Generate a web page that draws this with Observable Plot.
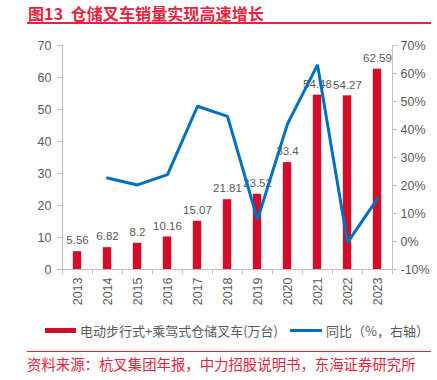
<!DOCTYPE html>
<html><head><meta charset="utf-8">
<script src="https://cdn.jsdelivr.net/npm/d3@7"></script>
<script src="https://cdn.jsdelivr.net/npm/@observablehq/plot@0.6"></script>
<style>
body{margin:0;background:#fff;font-family:"Noto Sans CJK SC","Liberation Sans",sans-serif;}
#wrap{position:relative;width:437px;height:380px;overflow:hidden;}
#title{position:absolute;left:28px;top:1px;font-size:16px;font-weight:bold;color:#e3233f;letter-spacing:0.1px;}
#tline{position:absolute;left:27px;top:22px;width:404px;height:2px;background:#e3233f;}
#chart{position:absolute;left:0;top:30px;}
#legend{position:absolute;left:45px;top:321px;font-size:13px;color:#595959;display:flex;align-items:center;white-space:nowrap;}
#sline{position:absolute;left:27px;top:351px;width:404px;height:1px;background:#e3233f;}
#source{position:absolute;left:27px;top:353px;font-size:14.4px;color:#e3233f;white-space:nowrap;}
</style></head>
<body><div id="wrap">
<div id="title">图13&nbsp;&nbsp;仓储叉车销量实现高速增长</div>
<div id="tline"></div>
<div id="chart"></div>
<div id="legend"><span style="display:inline-block;width:31px;height:5px;background:#d50b2a;margin-right:4px"></span>电动步行式+乘驾式仓储叉车(万台)<span style="display:inline-block;width:32px;height:3px;background:#0070c0;margin-left:12px;margin-right:4px"></span>同比（%，右轴）</div>
<div id="sline"></div>
<div id="source">资料来源：杭叉集团年报，中力招股说明书，东海证券研究所</div>
</div>
<script>
const years = [2013,2014,2015,2016,2017,2018,2019,2020,2021,2022,2023];
const sales = [5.56,6.82,8.2,10.16,15.07,21.81,23.52,33.4,54.48,54.27,62.59];
const growthYears = [2014,2015,2016,2017,2018,2019,2020,2021,2022,2023];
const growth = [22.7,20.2,23.9,48.3,44.7,7.8,42.0,63.1,-0.4,15.3];
const leftTicks = [0,10,20,30,40,50,60,70];
const rightTicks = [-10,0,10,20,30,40,50,60,70];

const leftDomain = [0,70];
const rightDomain = [-10,70];
const toLeft = g => leftDomain[0] + (g - rightDomain[0]) * (leftDomain[1]-leftDomain[0])/(rightDomain[1]-rightDomain[0]);
const xDomain = [years[0]-0.5, years[years.length-1]+0.5];
const halfBar = 0.14;

const bars = years.map((y,i)=>({year:y, v:sales[i]}));
const line = growthYears.map((y,i)=>({year:y, g:growth[i]}));
const gray = "#595959";
const axisGray = "#bfbfbf";

const chart = Plot.plot({
  width: 437, height: 282,
  marginTop: 15, marginLeft: 62, marginRight: 45, marginBottom: 43,
  style: {fontFamily: "'Liberation Sans', Arial, sans-serif", fontSize: "12px", color: gray, background: "#fff"},
  x: {type: "linear", domain: xDomain},
  y: {domain: leftDomain},
  marks: [
    Plot.rectY(bars, {x1: d=>d.year-halfBar, x2: d=>d.year+halfBar, y: "v", fill: "#d50b2a"}),
    Plot.text(bars, {x: "year", y: "v", text: d=>String(d.v), dy: -11, fill: gray, fontSize: 11.5}),
    Plot.line(line, {x: "year", y: d=>toLeft(d.g), stroke: "#0070c0", strokeWidth: 3, strokeLinejoin: "miter"}),
    Plot.ruleX([xDomain[0]], {stroke: axisGray}),
    Plot.ruleX([xDomain[1]], {stroke: axisGray}),
    Plot.ruleY([leftDomain[0]], {stroke: axisGray}),
    Plot.axisY({anchor: "left", ticks: leftTicks, tickSize: 5, tickPadding: 6, stroke: axisGray, fill: gray, label: null, fontSize: 12.5}),
    Plot.axisY({anchor: "right", ticks: rightTicks.map(toLeft), tickFormat: v => {const g = Math.round(v*80/70 + rightDomain[0]); return g + "%";}, tickSize: 4, tickPadding: 4, stroke: axisGray, fill: gray, label: null, fontSize: 12.5}),
    Plot.axisX({ticks: d3.range(xDomain[0], xDomain[1]+0.01, 1), tickFormat: () => "", tickSize: 5, stroke: axisGray, label: null}),
    Plot.axisX({ticks: years, tickFormat: d => String(d), tickSize: 0, tickPadding: 8, tickRotate: -90, fill: gray, label: null, fontSize: 12.5})
  ]
});
document.getElementById("chart").appendChild(chart);
</script>
</body></html>
